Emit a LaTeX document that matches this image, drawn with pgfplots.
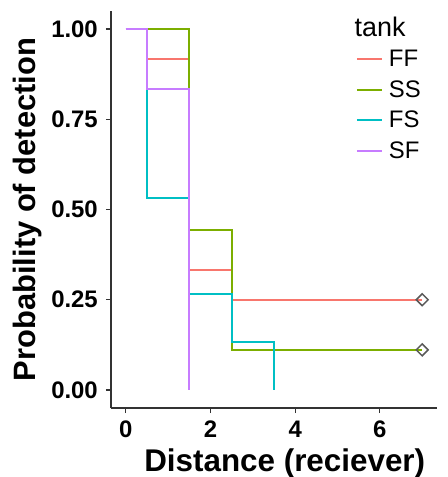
\documentclass[border=0pt]{standalone}
\usepackage{fontspec}
\setmainfont{Liberation Sans}
\usepackage{pgfplots}
\pgfplotsset{compat=1.18}
\definecolor{cFF}{rgb}{0.973,0.463,0.427}
\definecolor{cSS}{rgb}{0.486,0.682,0.0}
\definecolor{cFS}{rgb}{0.0,0.749,0.769}
\definecolor{cSF}{rgb}{0.780,0.486,1.0}
\definecolor{axc}{rgb}{0.2,0.2,0.2}
\begin{document}
\begin{tikzpicture}
\begin{axis}[
  scale only axis,
  width=326bp, height=397bp,
  xmin=-0.35, xmax=7.35, ymin=-0.05, ymax=1.05,
  axis lines*=left,
  axis line style={axc, line width=1.4bp},
  every tick/.style={axc, line width=1.2bp},
  tick align=outside, major tick length=5bp,
  xtick={0,2,4,6}, ytick={0,0.25,0.5,0.75,1},
  /pgf/number format/assume math mode=true,
  yticklabel style={/pgf/number format/fixed, /pgf/number format/fixed zerofill, /pgf/number format/precision=2, font=\fontsize{24}{26}\selectfont\bfseries, inner sep=3bp, xshift=-5bp},
  xticklabel style={font=\fontsize{24}{26}\selectfont\bfseries, inner sep=2bp, yshift=-6bp},
  xlabel={Distance (reciever)},
  ylabel={Probability of detection},
  xlabel style={font=\fontsize{31.5}{34}\selectfont\bfseries, at={(axis description cs:0.533,-0.14)}, anchor=center},
  ylabel style={font=\fontsize{31}{34}\selectfont\bfseries, at={(axis description cs:-0.255,0.5)}, anchor=center},
  clip=false,
  legend style={at={(axis cs:5.43,0.948)}, anchor=north west, draw=none, fill=none, inner sep=0pt, row sep=8.5bp, font=\fontsize{24}{27}\selectfont, cells={anchor=west}},
  legend image code/.code={\draw[line width=2bp] (0bp,0bp) -- (25bp,0bp); \path (29bp,0bp);},
]
\addplot[color=cFF, line width=2bp] coordinates {(0,1) (0.5,1) (0.5,0.917) (1.5,0.917) (1.5,0.333) (2.5,0.333) (2.5,0.25) (7,0.25)};
\addlegendentry{FF}
\addplot[color=cSS, line width=2bp] coordinates {(0,1) (1.5,1) (1.5,0.444) (2.5,0.444) (2.5,0.111) (7,0.111)};
\addlegendentry{SS}
\addplot[color=cFS, line width=2bp] coordinates {(0,1) (0.5,1) (0.5,0.533) (1.5,0.533) (1.5,0.267) (2.5,0.267) (2.5,0.133) (3.5,0.133) (3.5,0)};
\addlegendentry{FS}
\addplot[color=cSF, line width=2bp] coordinates {(0,1) (0.5,1) (0.5,0.833) (1.5,0.833) (1.5,0)};
\addlegendentry{SF}
\addplot[only marks, mark=square, mark size=4.2bp, mark options={rotate=45, draw=black!65, line width=1.5bp, fill=white}, forget plot] coordinates {(7,0.25) (7,0.111)};
\node[anchor=west, font=\fontsize{27}{30}\selectfont, inner sep=0pt] at (axis cs:5.4,1.005) {tank};
\end{axis}
\pgfresetboundingbox
\path[use as bounding box] ([shift={(-111bp,-69bp)}]current axis.south west) rectangle ([shift={(11bp,11bp)}]current axis.north east);
\end{tikzpicture}
\end{document}
